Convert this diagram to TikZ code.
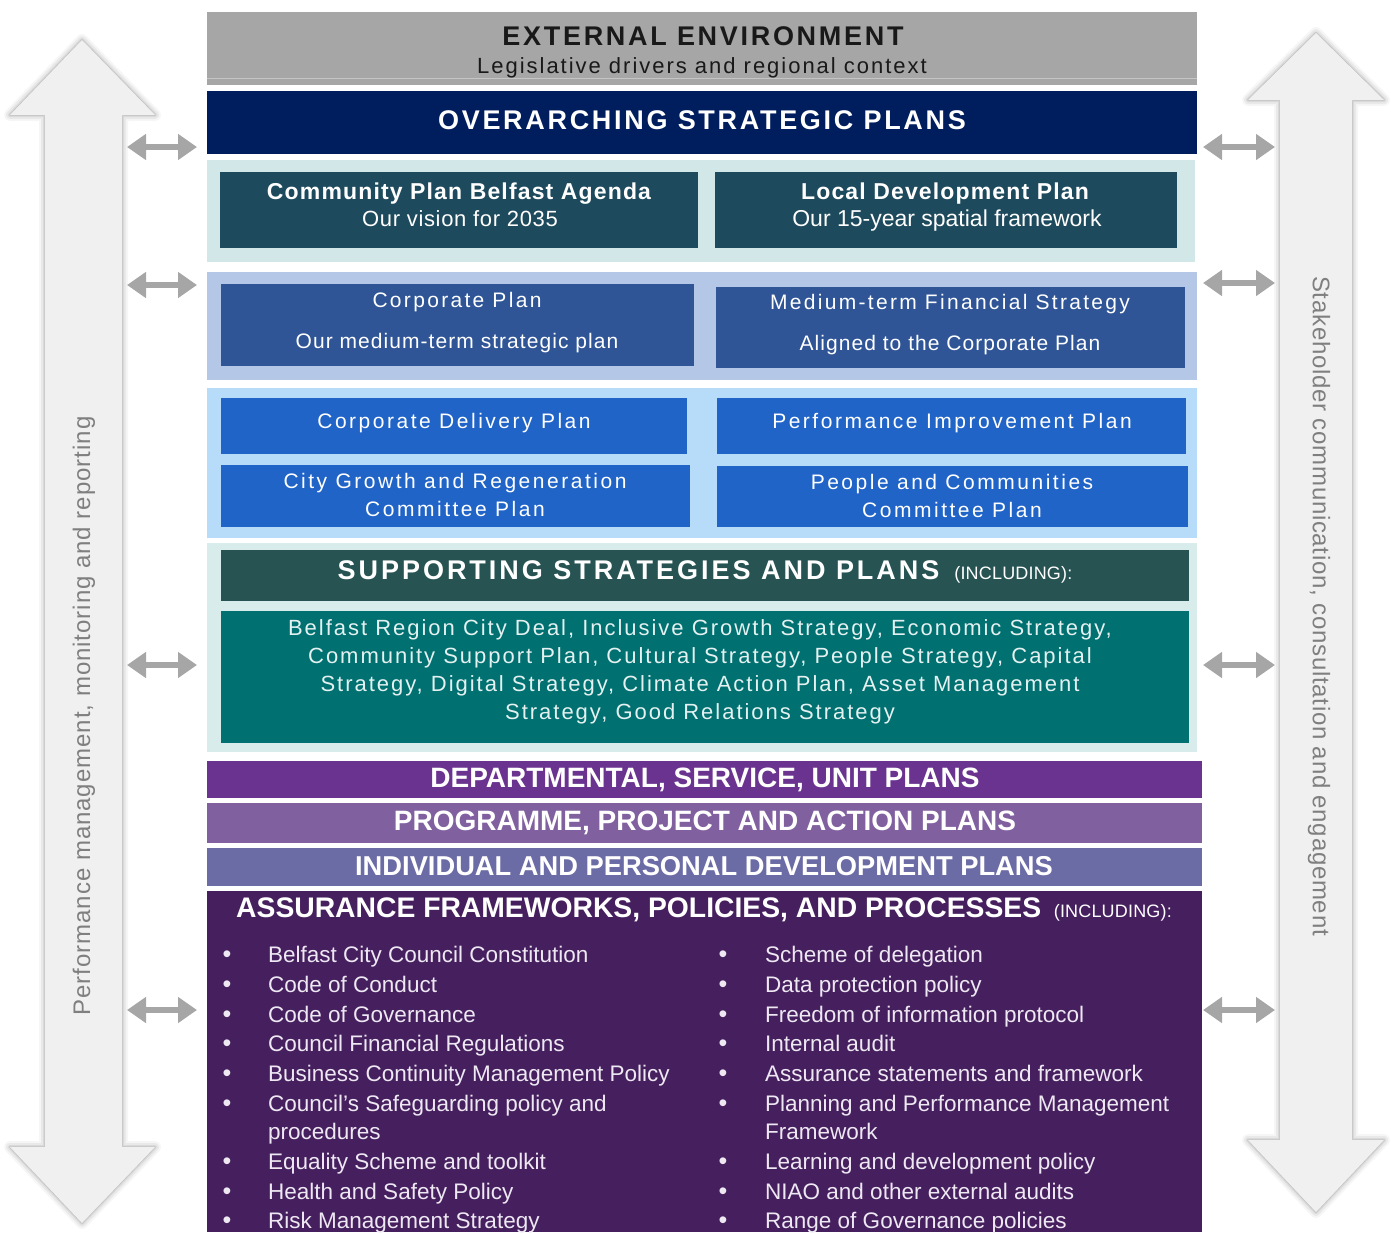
\documentclass[tikz,border=0pt]{standalone}
\usepackage{fontspec}
\setmainfont{Liberation Sans}
\usetikzlibrary{arrows.meta}

\definecolor{extgray}{HTML}{A6A6A6}
\definecolor{navyband}{HTML}{001D5E}
\definecolor{tealband}{HTML}{D2E8E8}
\definecolor{tealbox}{HTML}{1D4A5C}
\definecolor{blueband}{HTML}{B4C7E7}
\definecolor{corpbox}{HTML}{2F5597}
\definecolor{skyband}{HTML}{B6DCFA}
\definecolor{delibox}{HTML}{2064C8}
\definecolor{suppband}{HTML}{D7ECEB}
\definecolor{supphead}{HTML}{275353}
\definecolor{suppbody}{HTML}{007070}
\definecolor{deptband}{HTML}{6A338F}
\definecolor{progband}{HTML}{8160A0}
\definecolor{indiband}{HTML}{6B6BA6}
\definecolor{assuband}{HTML}{46205E}
\definecolor{arrowgray}{HTML}{A6A6A6}
\definecolor{arrowfill}{HTML}{F0F0F0}
\definecolor{sidetext}{HTML}{7F7F7F}
\definecolor{listtext}{HTML}{EEE8F3}

\newcommand{\fsz}[2]{\fontsize{#1}{#2}\selectfont}
\newcommand{\spaced}[1]{\addfontfeature{LetterSpace=#1}}
\newcommand{\incltext}{\fsz{18}{20}\mdseries\spaced{1}(INCLUDING):}

\tikzset{
  boxtext/.style={text=white, inner sep=0pt, anchor=base},
  bighead/.style={boxtext, font=\fsz{27}{32}\bfseries\spaced{10}},
  boxtitle/.style={boxtext, font=\fsz{23}{28}\bfseries\spaced{5}},
  boxsub/.style={boxtext, font=\fsz{22}{28}\spaced{3}},
  planline/.style={boxtext, font=\fsz{21}{28}\spaced{12}},
  plansub/.style={boxtext, font=\fsz{21}{28}\spaced{5}},
  bandhead/.style={boxtext, font=\fsz{28}{32}\bfseries},
  listitem/.style={text=listtext, inner sep=0pt, anchor=base west, font=\fsz{22.5}{28}},
  bulletdot/.style={text=listtext, inner sep=0pt, anchor=base, font=\fsz{25}{28}},
  sidelabel/.style={text=sidetext, inner sep=0pt, font=\fsz{24}{28}\spaced{3}},
  dblarrow/.style={draw=arrowgray, line width=6pt,
    {Triangle[length=19pt,width=25pt]}-{Triangle[length=19pt,width=25pt]}}
}

\begin{document}
\begin{tikzpicture}[x=1pt,y=-1pt]

    \useasboundingbox (0,0) rectangle (1391,1232);

    % the two big side arrows
    \def\leftarrowpath{(45,1147) -- (45,115) -- (10,115) -- (82,40) -- (155,115) -- (122,115)
      -- (122,1147) -- (155,1147) -- (82,1223) -- (10,1147) -- cycle}
    \def\rightarrowpath{(1280,1140) -- (1280,100) -- (1248,100) -- (1316,33) -- (1384,100) -- (1352,100)
      -- (1352,1140) -- (1384,1140) -- (1316,1212) -- (1248,1140) -- cycle}
    \foreach \w/\o in {12/0.035,8/0.05,4/0.07,1.5/0.1} {
      \draw[line width=\w pt, black, opacity=\o, line join=round] \leftarrowpath;
      \draw[line width=\w pt, black, opacity=\o, line join=round] \rightarrowpath;
    }
    \fill[arrowfill] \leftarrowpath;
    \fill[arrowfill] \rightarrowpath;

    \node[sidelabel, rotate=90, font=\fsz{24}{28}\spaced{4}] (perf) at (84,716) {Performance management, monitoring and reporting};
    \node[sidelabel, rotate=-90] (stake) at (1319,606) {Stakeholder communication, consultation and engagement};

    % small arrows between the side arrows and the bands
    \foreach \y [count=\i] in {147,285,665,1010} {
      \coordinate (pl\i) at (127,\y);
      \coordinate (pr\i) at (197,\y);
      \draw[dblarrow] (pl\i) -- (pr\i);
    }
    \foreach \y [count=\i] in {147,283,665,1010} {
      \coordinate (sl\i) at (1203,\y);
      \coordinate (sr\i) at (1275,\y);
      \draw[dblarrow] (sl\i) -- (sr\i);
    }

    % external environment
    \fill[extgray] (207,12) rectangle (1197,85);
    \draw[white, opacity=0.35, line width=1pt] (207,78) -- (1197,78);
    \node[bighead, text=black!90] (ext) at (703,45) {EXTERNAL ENVIRONMENT};
    \node[boxtext, text=black!90, font=\fsz{22}{26}\spaced{9}] (extsub) at (702,73) {Legislative drivers and regional context};

    % overarching strategic plans
    \fill[navyband] (207,91) rectangle (1197,154);
    \node[bighead] (over) at (702,129) {OVERARCHING STRATEGIC PLANS};

    \fill[tealband] (207,160) rectangle (1195,262);
    \fill[tealbox] (220,172) rectangle (698,248);
    \fill[tealbox] (715,172) rectangle (1177,248);
    \node[boxtitle] (cpba) at (459,199) {Community Plan Belfast Agenda};
    \node[boxsub] (cpbasub) at (460,226) {Our vision for 2035};
    \node[boxtitle] (ldp) at (945,199) {Local Development Plan};
    \node[boxsub, font=\fsz{23}{28}] (ldpsub) at (947,226) {Our 15-year spatial framework};

    \fill[blueband] (207,272) rectangle (1197,380);
    \fill[corpbox] (221,284) rectangle (694,366);
    \fill[corpbox] (716,287) rectangle (1185,368);
    \node[planline, font=\fsz{21}{28}\spaced{11}] (corp) at (457,307) {Corporate Plan};
    \node[plansub] (corpsub) at (457,348) {Our medium-term strategic plan};
    \node[planline, font=\fsz{21}{28}\spaced{11}] (mtfs) at (950,309) {Medium-term Financial Strategy};
    \node[plansub] (mtfssub) at (950,350) {Aligned to the Corporate Plan};

    \fill[skyband] (207,388) rectangle (1197,538);
    \fill[delibox] (221,398) rectangle (687,454);
    \fill[delibox] (221,465) rectangle (690,527);
    \fill[delibox] (717,398) rectangle (1186,454);
    \fill[delibox] (717,466) rectangle (1188,527);
    \node[planline] (cdp) at (454,428) {Corporate Delivery Plan};
    \node[planline] (cgr) at (455,488) {City Growth and Regeneration};
    \node[planline] (cgrb) at (455,516) {Committee Plan};
    \node[planline] (pip) at (952,428) {Performance Improvement Plan};
    \node[planline] (pcc) at (952,489) {People and Communities};
    \node[planline] (pccb) at (952,517) {Committee Plan};

    % supporting strategies and plans
    \fill[suppband] (207,543) rectangle (1197,752);
    \fill[supphead] (221,550) rectangle (1189,601);
    \fill[suppbody] (221,611) rectangle (1189,743);
    \node[bighead, font=\fsz{27}{32}\bfseries\spaced{11}] (supp) at (705,579) {SUPPORTING STRATEGIES AND PLANS \,{\incltext}};
    \foreach \txt [count=\i] in {{Belfast Region City Deal, Inclusive Growth Strategy, Economic Strategy,},
      {Community Support Plan, Cultural Strategy, People Strategy, Capital},
      {Strategy, Digital Strategy, Climate Action Plan, Asset Management},
      {Strategy, Good Relations Strategy}} {
      \node[boxtext, text=white!90!suppbody, font=\fsz{22}{28}\spaced{9}] (body\i) at (700,607+28*\i) {\txt};
    }

    % plan levels
    \fill[deptband] (207,761) rectangle (1202,798);
    \node[bandhead] (dept) at (705,787) {DEPARTMENTAL, SERVICE, UNIT PLANS};
    \fill[progband] (207,803) rectangle (1202,843);
    \node[bandhead] (prog) at (705,830) {PROGRAMME, PROJECT AND ACTION PLANS};
    \fill[indiband] (207,848) rectangle (1202,886);
    \node[bandhead, font=\fsz{27.3}{32}\bfseries] (indi) at (704,875) {INDIVIDUAL AND PERSONAL DEVELOPMENT PLANS};

    % assurance frameworks
    \fill[assuband] (207,891) rectangle (1202,1232);
    \node[bandhead, font=\fsz{28.3}{32}\bfseries] (assu) at (704,917) {ASSURANCE FRAMEWORKS, POLICIES, AND PROCESSES \,{\incltext}};

    \foreach \y in {962,992,1022,1051,1081,1111,1169,1199,1228} {
      \node[bulletdot] (bl\y) at (227,\y) {•};
      \node[bulletdot] (br\y) at (723,\y) {•};
    }
    \foreach \y/\txt in {962/Belfast City Council Constitution, 992/Code of Conduct,
      1022/Code of Governance, 1051/Council Financial Regulations,
      1081/Business Continuity Management Policy, 1111/Council’s Safeguarding policy and,
      1139/procedures, 1169/Equality Scheme and toolkit, 1199/Health and Safety Policy,
      1228/Risk Management Strategy} {
      \node[listitem] (la\y) at (268,\y) {\txt};
    }
    \foreach \y/\txt in {962/Scheme of delegation, 992/Data protection policy,
      1022/Freedom of information protocol, 1051/Internal audit,
      1081/Assurance statements and framework, 1111/Planning and Performance Management,
      1139/Framework, 1169/Learning and development policy, 1199/NIAO and other external audits,
      1228/Range of Governance policies} {
      \node[listitem] (ra\y) at (765,\y) {\txt};
    }
  \end{tikzpicture}
\end{document}
